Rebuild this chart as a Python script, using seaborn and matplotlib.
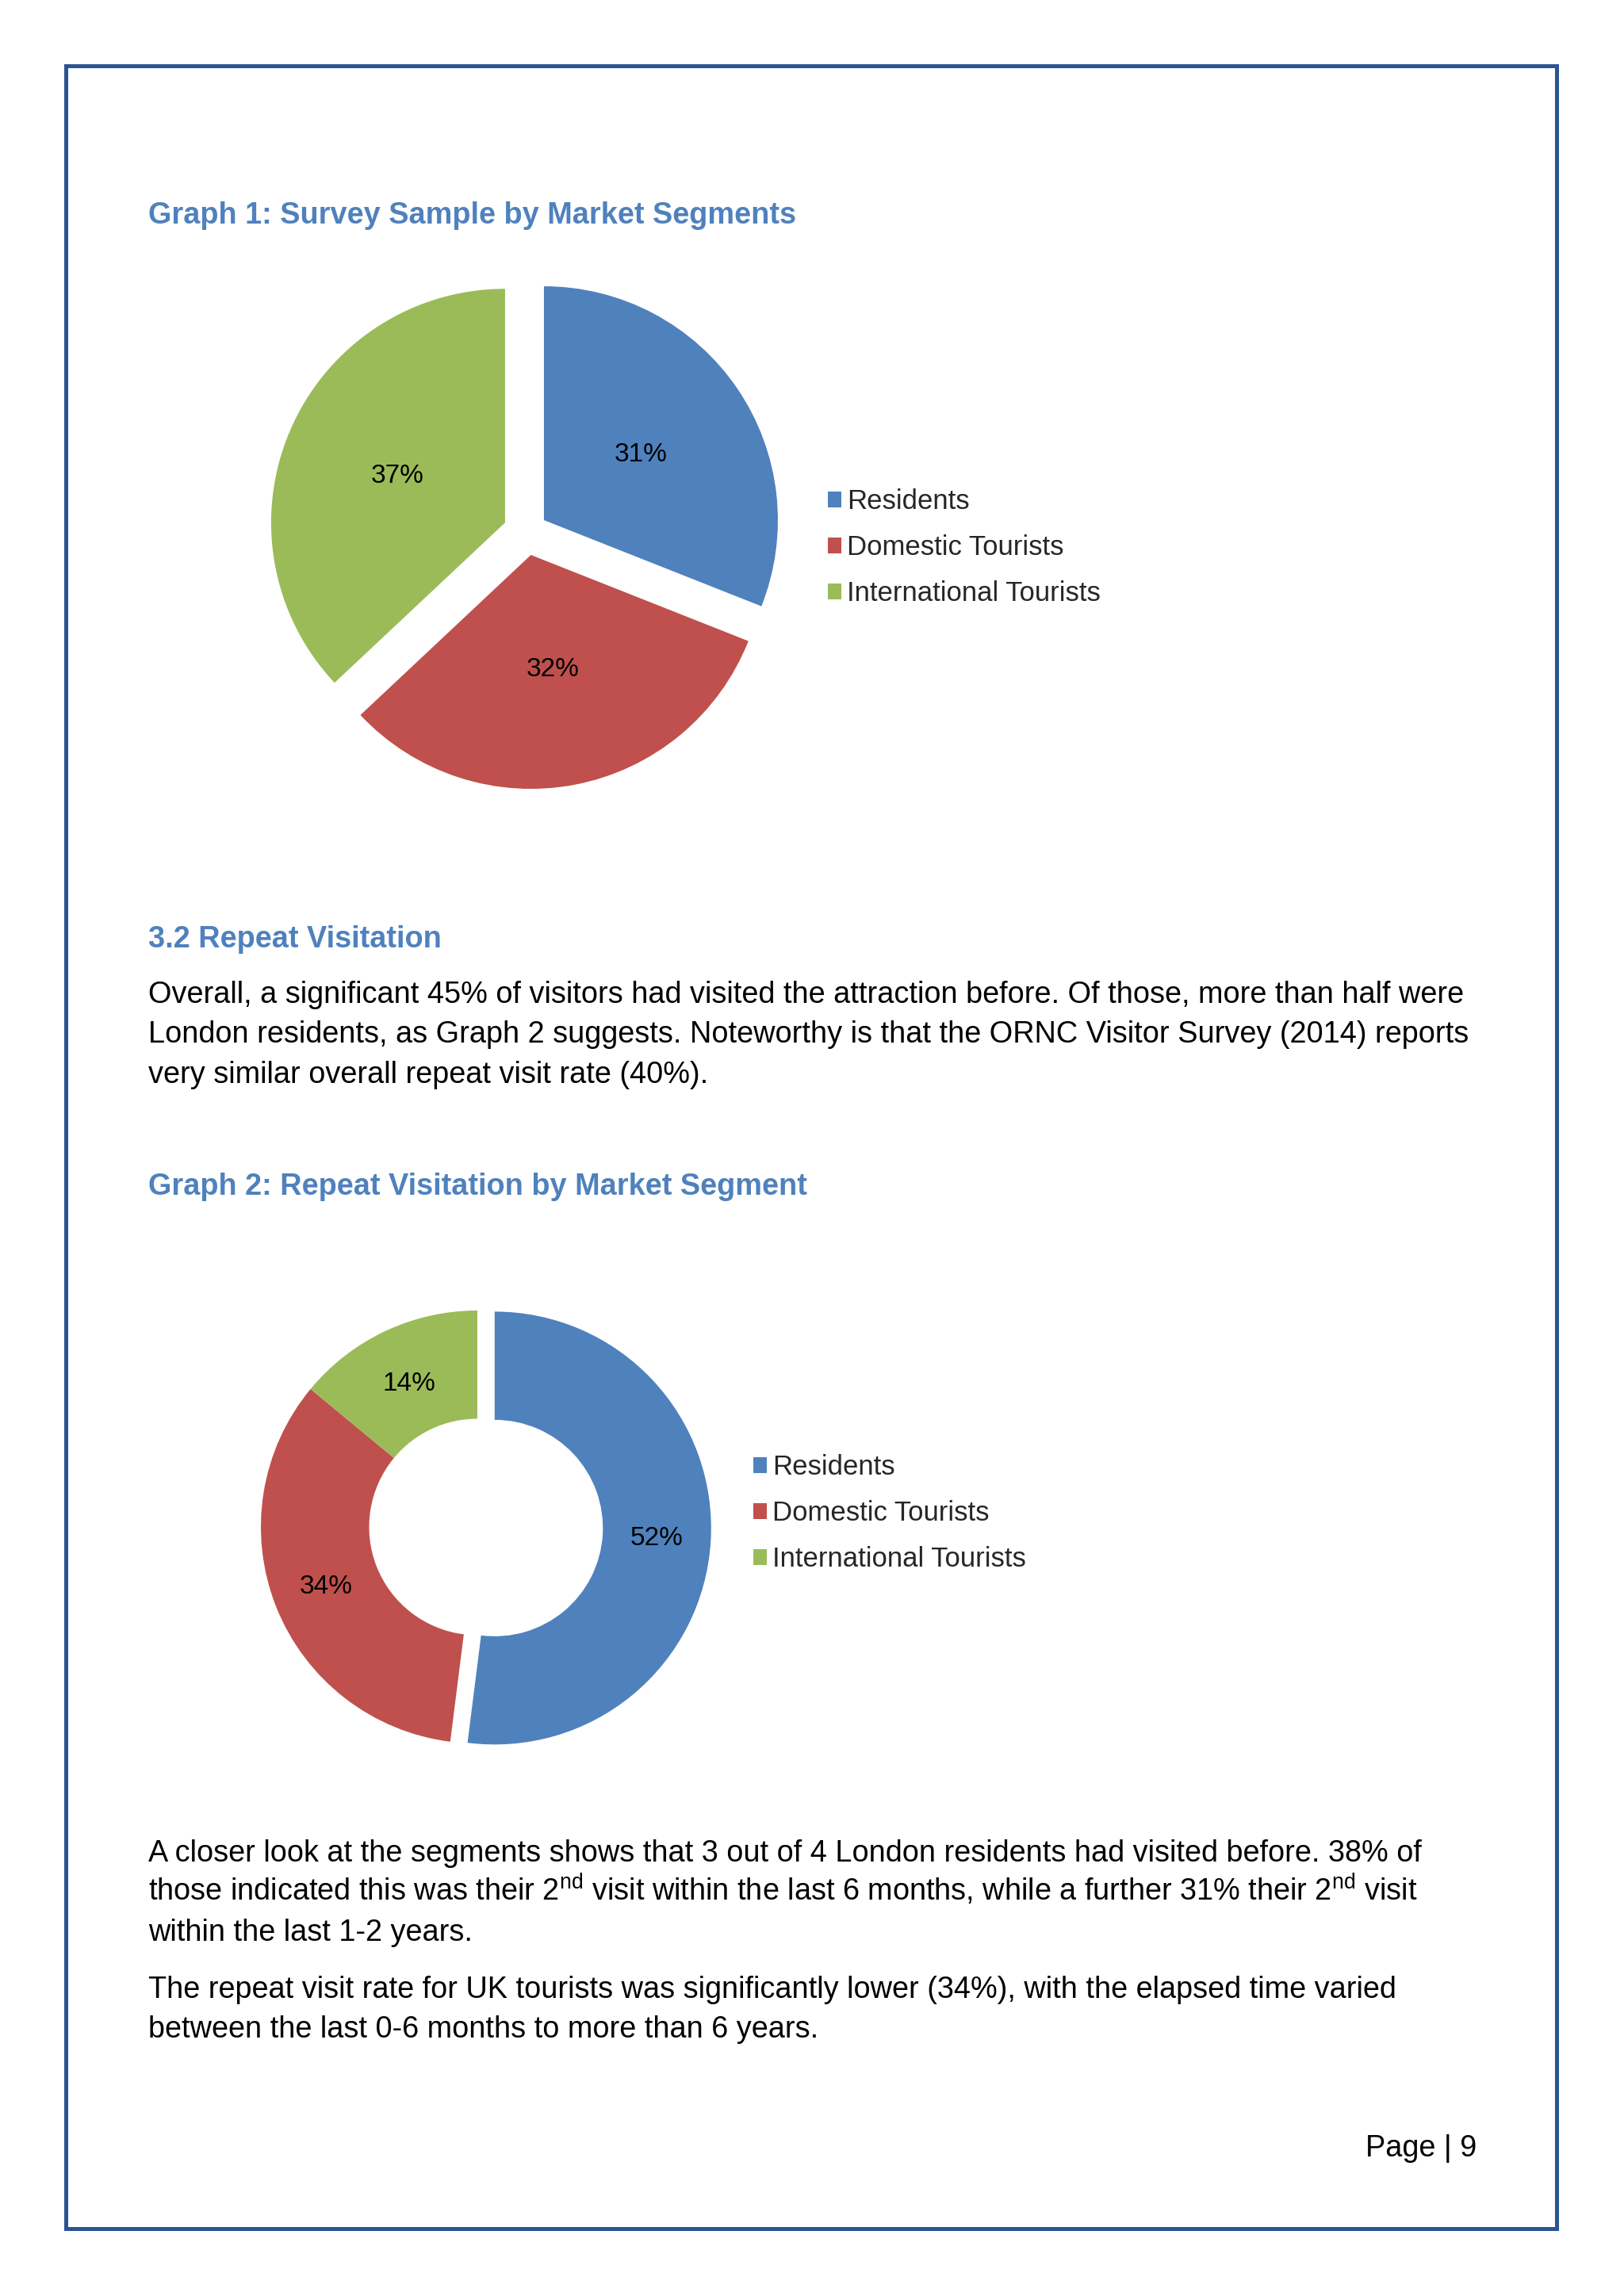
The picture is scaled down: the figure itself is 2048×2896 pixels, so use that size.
import matplotlib
matplotlib.use("Agg")
import matplotlib.pyplot as plt
import seaborn as sns
from matplotlib.patches import Rectangle
import numpy as np

# ---------------- data ----------------
segments = ["Residents", "Domestic Tourists", "International Tourists"]
sample_share = [31, 32, 37]          # Graph 1 (%)
repeat_share = [52, 34, 14]          # Graph 2 (%)
seg_colors = ["#4F81BD", "#C0504D", "#9BBB59"]

title1 = "Graph 1: Survey Sample by Market Segments"
heading = "3.2 Repeat Visitation"
para1 = [
    "Overall, a significant 45% of visitors had visited the attraction before. Of those, more than half were",
    "London residents, as Graph 2 suggests. Noteworthy is that the ORNC Visitor Survey (2014) reports",
    "very similar overall repeat visit rate (40%).",
]
title2 = "Graph 2: Repeat Visitation by Market Segment"
para2 = [
    "A closer look at the segments shows that 3 out of 4 London residents had visited before. 38% of",
    r"those indicated this was their 2$^{\mathregular{nd}}$ visit within the last 6 months, while a further 31% their 2$^{\mathregular{nd}}$ visit",
    "within the last 1-2 years.",
]
para3 = [
    "The repeat visit rate for UK tourists was significantly lower (34%), with the elapsed time varied",
    "between the last 0-6 months to more than 6 years.",
]
page_label = "Page | 9"

# ---------------- style ----------------
sns.set_style("white")
plt.rcParams["font.family"] = ["Liberation Sans", "DejaVu Sans"]
plt.rcParams["mathtext.fontset"] = "custom"
plt.rcParams["mathtext.rm"] = "Liberation Sans"

W, H = 2048, 2896
fig = plt.figure(figsize=(W / 100, H / 100), dpi=100)
fig.patch.set_facecolor("white")

def fx(x):
    return x / W

def fy(y):
    return 1 - y / H

BLUE_T = "#4F81BD"
BODY = 27.3

# border
fig.add_artist(Rectangle((fx(83), fy(2811)), (1963 - 83) / W, (2811 - 83) / H,
                         transform=fig.transFigure, fill=False, lw=3.6,
                         ec="#2A5592"))

# titles / text
fig.text(fx(187), fy(282), title1, fontsize=BODY, fontweight="bold",
         color=BLUE_T, va="baseline", ha="left")
fig.text(fx(187), fy(1195), heading, fontsize=BODY, fontweight="bold",
         color=BLUE_T, va="baseline", ha="left")
for i, line in enumerate(para1):
    fig.text(fx(187), fy(1265 + 50.5 * i), line, fontsize=BODY, color="black",
             va="baseline", ha="left")
fig.text(fx(187), fy(1507), title2, fontsize=BODY, fontweight="bold",
         color=BLUE_T, va="baseline", ha="left")
for i, line in enumerate(para2):
    fig.text(fx(187), fy(2348 + 50 * i), line, fontsize=BODY, color="black",
             va="baseline", ha="left")
for i, line in enumerate(para3):
    fig.text(fx(187), fy(2520 + 50 * i), line, fontsize=BODY, color="black",
             va="baseline", ha="left")
fig.text(fx(1862), fy(2720), page_label, fontsize=BODY, color="black",
         va="baseline", ha="right")

LBL = 24.0
LEG = 25.0

# ---------------- Graph 1: exploded pie ----------------
c1x, c1y, r1 = 664, 671, 295
half1 = 1.3 * r1
ax1 = fig.add_axes([fx(c1x - half1), fy(c1y + half1), 2 * half1 / W, 2 * half1 / H])
w1, t1, a1 = ax1.pie(sample_share, explode=[0.09, 0.1, 0.1], colors=seg_colors,
                     startangle=90, counterclock=False, autopct="%1.0f%%",
                     pctdistance=0.5, wedgeprops=dict(linewidth=0),
                     textprops=dict(fontsize=LBL, color="black"))
ax1.set_xlim(-1.3, 1.3)
ax1.set_ylim(-1.3, 1.3)
ax1.set_aspect("equal")
ax1.axis("off")
ax1.legend(w1, segments, loc="center left",
           bbox_to_anchor=(fx(1044), fy(691)), bbox_transform=fig.transFigure,
           frameon=False, fontsize=LEG, handlelength=0.48, handleheight=0.48,
           handletextpad=0.22, labelspacing=0.72, borderpad=0, borderaxespad=0)

# ---------------- Graph 2: donut ----------------
c2x, c2y, r2 = 602, 1926, 273
half2 = 1.3 * r2
ax2 = fig.add_axes([fx(c2x - half2), fy(c2y + half2), 2 * half2 / W, 2 * half2 / H])
w2, t2, a2 = ax2.pie(repeat_share, explode=[0.08, 0, 0], colors=seg_colors,
                     startangle=90, counterclock=False, autopct="%1.0f%%",
                     pctdistance=0.75, wedgeprops=dict(width=0.5, linewidth=0),
                     textprops=dict(fontsize=LBL, color="black"))
# small nudge of the 14% label as placed in the original chart
ang = np.deg2rad(115)
a2[2].set_position((0.75 * np.cos(ang), 0.75 * np.sin(ang) - 0.02))
ax2.set_xlim(-1.3, 1.3)
ax2.set_ylim(-1.3, 1.3)
ax2.set_aspect("equal")
ax2.axis("off")
ax2.legend(w2, segments, loc="center left",
           bbox_to_anchor=(fx(950), fy(1909)), bbox_transform=fig.transFigure,
           frameon=False, fontsize=LEG, handlelength=0.48, handleheight=0.48,
           handletextpad=0.22, labelspacing=0.72, borderpad=0, borderaxespad=0)

fig.savefig("out.png", dpi=100, facecolor="white")
